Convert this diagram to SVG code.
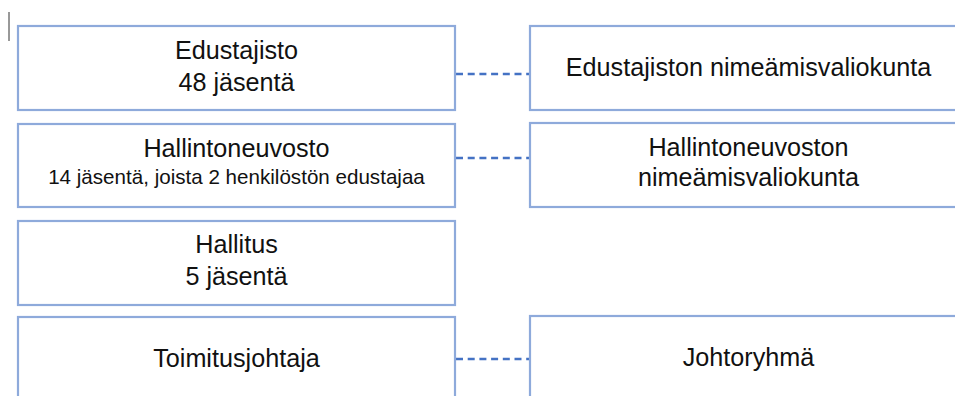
<svg xmlns="http://www.w3.org/2000/svg" width="955" height="396" viewBox="0 0 955 396">
<style>
.box{fill:#ffffff;stroke:#8eaadb;stroke-width:2.2}
.t{font-family:"Liberation Sans",Arial,sans-serif;fill:#111111;text-anchor:middle}
.big{font-size:25.2px}
.small{font-size:20.6px}
.dash{stroke:#4472c4;stroke-width:2.4;stroke-dasharray:7 4.7;fill:none}
</style>
<rect width="955" height="396" fill="#ffffff"/>
<line x1="9" y1="12" x2="9" y2="41" stroke="#333333" stroke-width="1"/>
<g id="connectors">
<line class="dash" x1="456" y1="74" x2="530" y2="74"/>
<line class="dash" x1="456" y1="158" x2="530" y2="158"/>
<line class="dash" x1="456" y1="359" x2="530" y2="359"/>
</g>
<g id="edustajisto">
<rect class="box" x="18" y="26" width="437" height="84"/>
<text class="t big" x="236.5" y="59">Edustajisto</text>
<text class="t big" x="236.5" y="91">48 jäsentä</text>
</g>
<g id="hallintoneuvosto">
<rect class="box" x="18" y="124" width="437" height="83"/>
<text class="t big" x="236.5" y="157">Hallintoneuvosto</text>
<text class="t small" x="236.5" y="184">14 jäsentä, joista 2 henkilöstön edustajaa</text>
</g>
<g id="hallitus">
<rect class="box" x="18" y="221" width="437" height="84"/>
<text class="t big" x="236.5" y="253">Hallitus</text>
<text class="t big" x="236.5" y="285">5 jäsentä</text>
</g>
<g id="toimitusjohtaja">
<rect class="box" x="18" y="317" width="437" height="100"/>
<text class="t big" x="236.5" y="367">Toimitusjohtaja</text>
</g>
<g id="edustajiston-nimeamisvaliokunta">
<rect class="box" x="530" y="26" width="437" height="84"/>
<text class="t big" x="748.5" y="76">Edustajiston nimeämisvaliokunta</text>
</g>
<g id="hallintoneuvoston-nimeamisvaliokunta">
<rect class="box" x="530" y="123" width="437" height="84"/>
<text class="t big" x="748.5" y="156">Hallintoneuvoston</text>
<text class="t big" x="748.5" y="186">nimeämisvaliokunta</text>
</g>
<g id="johtoryhma">
<rect class="box" x="530" y="316" width="437" height="100"/>
<text class="t big" x="748.5" y="366">Johtoryhmä</text>
</g>
</svg>
